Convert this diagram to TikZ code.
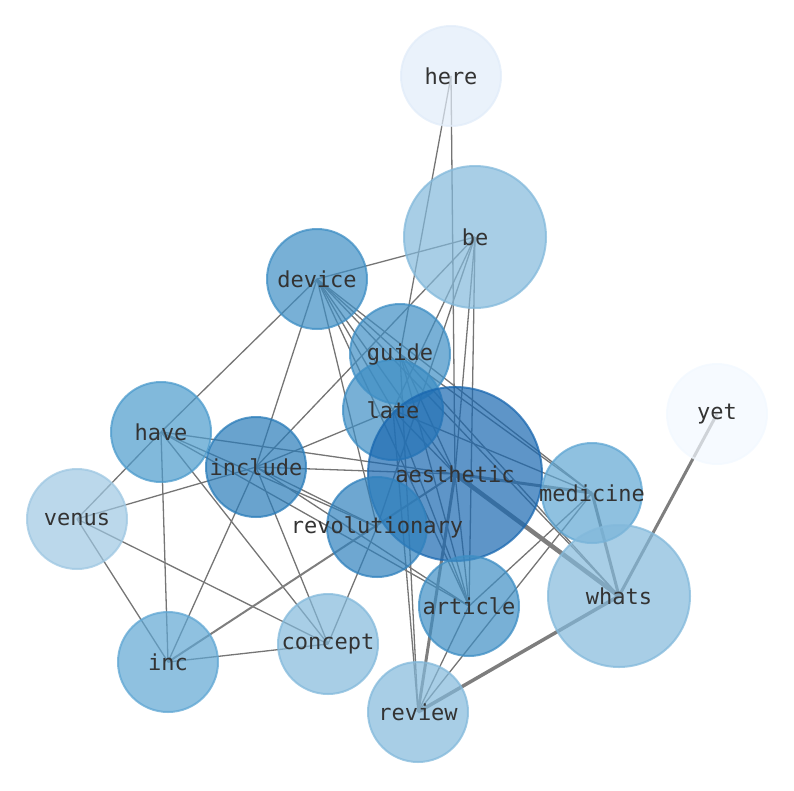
\documentclass[tikz,border=0pt]{standalone}
\usepackage{fontspec}
\setmonofont{DejaVu Sans Mono}
\pgfdeclarelayer{bg}
\pgfsetlayers{bg,main}
\definecolor{cAes}{HTML}{1A68B0}
\definecolor{cInc}{HTML}{2A7CB9}
\definecolor{cRev}{HTML}{3081BD}
\definecolor{cDev}{HTML}{3E8EC4}
\definecolor{cHave}{HTML}{4C9BCC}
\definecolor{cMed}{HTML}{5FA6D3}
\definecolor{cBe}{HTML}{83B9DB}
\definecolor{cVen}{HTML}{9EC7E2}
\definecolor{cHere}{HTML}{E1ECF9}
\definecolor{cYet}{HTML}{F2F8FF}
\definecolor{labelgray}{HTML}{333333}
\definecolor{edgegray}{HTML}{757575}
\definecolor{wedgegray}{HTML}{7E7E7E}
\tikzset{
  vtx/.style={circle, inner sep=0pt, minimum size=#1, line width=2pt, fill opacity=0.7, draw opacity=0.75},
  lbl/.style={font=\fontsize{22}{22}\selectfont\ttfamily, text=labelgray, inner sep=0pt},
  edge/.style={draw=edgegray, line width=1.3pt},
  wedge/.style={draw=wedgegray, line width=#1}
}
\begin{document}
\begin{tikzpicture}[x=1pt,y=-1pt]
\useasboundingbox (0,0) rectangle (794,790);
% nodes (circles)
\node[vtx=100pt, fill=cHere, draw=cHere] (here) at (451,76) {};
\node[vtx=142pt, fill=cBe, draw=cBe] (be) at (475,237) {};
\node[vtx=100pt, fill=cDev, draw=cDev] (device) at (317,279) {};
\node[vtx=100pt, fill=cDev, draw=cDev] (guide) at (400,354) {};
\node[vtx=100pt, fill=cDev, draw=cDev] (late) at (393,410) {};
\node[vtx=100pt, fill=cYet, draw=cYet] (yet) at (717,414) {};
\node[vtx=100pt, fill=cHave, draw=cHave] (have) at (161,432) {};
\node[vtx=100pt, fill=cInc, draw=cInc] (include) at (256,467) {};
\node[vtx=174pt, fill=cAes, draw=cAes] (aesthetic) at (455,474) {};
\node[vtx=100pt, fill=cMed, draw=cMed] (medicine) at (592,493) {};
\node[vtx=100pt, fill=cVen, draw=cVen] (venus) at (77,519) {};
\node[vtx=100pt, fill=cRev, draw=cRev] (revolutionary) at (377,527) {};
\node[vtx=142pt, fill=cBe, draw=cBe] (whats) at (619,596) {};
\node[vtx=100pt, fill=cDev, draw=cDev] (article) at (469,606) {};
\node[vtx=100pt, fill=cBe, draw=cBe] (concept) at (328,644) {};
\node[vtx=100pt, fill=cMed, draw=cMed] (inc) at (168,662) {};
\node[vtx=100pt, fill=cBe, draw=cBe] (review) at (418,712) {};
% edges behind nodes
\begin{pgfonlayer}{bg}
\foreach \a/\b in {here/guide, here/aesthetic,
  be/device, be/include, be/late, be/revolutionary, be/article, be/aesthetic,
  device/have, device/include, device/revolutionary, device/late, device/article,
  device/aesthetic, device/medicine, device/whats, device/guide,
  guide/review, guide/medicine, guide/aesthetic, guide/article, guide/whats,
  late/include, late/medicine, late/aesthetic, late/article, late/review,
  have/venus, have/inc, have/concept, have/aesthetic, have/revolutionary, have/article,
  include/venus, include/inc, include/concept, include/aesthetic, include/revolutionary, include/article,
  venus/inc, venus/concept, inc/concept, concept/revolutionary,
  aesthetic/article, medicine/article, medicine/review, review/article}
  \draw[edge] (\a.center) -- (\b.center);
\draw[wedge=2pt] (inc.center) -- (aesthetic.center);
\draw[wedge=4.5pt] (aesthetic.center) -- (whats.center);
\draw[wedge=3pt] (aesthetic.center) -- (medicine.center);
\draw[wedge=3pt] (aesthetic.center) -- (review.center);
\draw[wedge=3pt] (medicine.center) -- (whats.center);
\draw[wedge=3pt] (whats.center) -- (yet.center);
\draw[wedge=3.5pt] (whats.center) -- (review.center);
\end{pgfonlayer}
% labels
\node[lbl] (here-l) at (here) {here};
\node[lbl] (be-l) at (be) {be};
\node[lbl] (device-l) at (device) {device};
\node[lbl] (guide-l) at (guide) {guide};
\node[lbl] (late-l) at (late) {late};
\node[lbl] (yet-l) at (yet) {yet};
\node[lbl] (have-l) at (have) {have};
\node[lbl] (include-l) at (include) {include};
\node[lbl] (aesthetic-l) at (aesthetic) {aesthetic};
\node[lbl] (medicine-l) at (medicine) {medicine};
\node[lbl] (venus-l) at (venus) {venus};
\node[lbl] (revolutionary-l) at (revolutionary) {revolutionary};
\node[lbl] (whats-l) at (whats) {whats};
\node[lbl] (article-l) at (article) {article};
\node[lbl] (concept-l) at (concept) {concept};
\node[lbl] (inc-l) at (inc) {inc};
\node[lbl] (review-l) at (review) {review};
\end{tikzpicture}
\end{document}
